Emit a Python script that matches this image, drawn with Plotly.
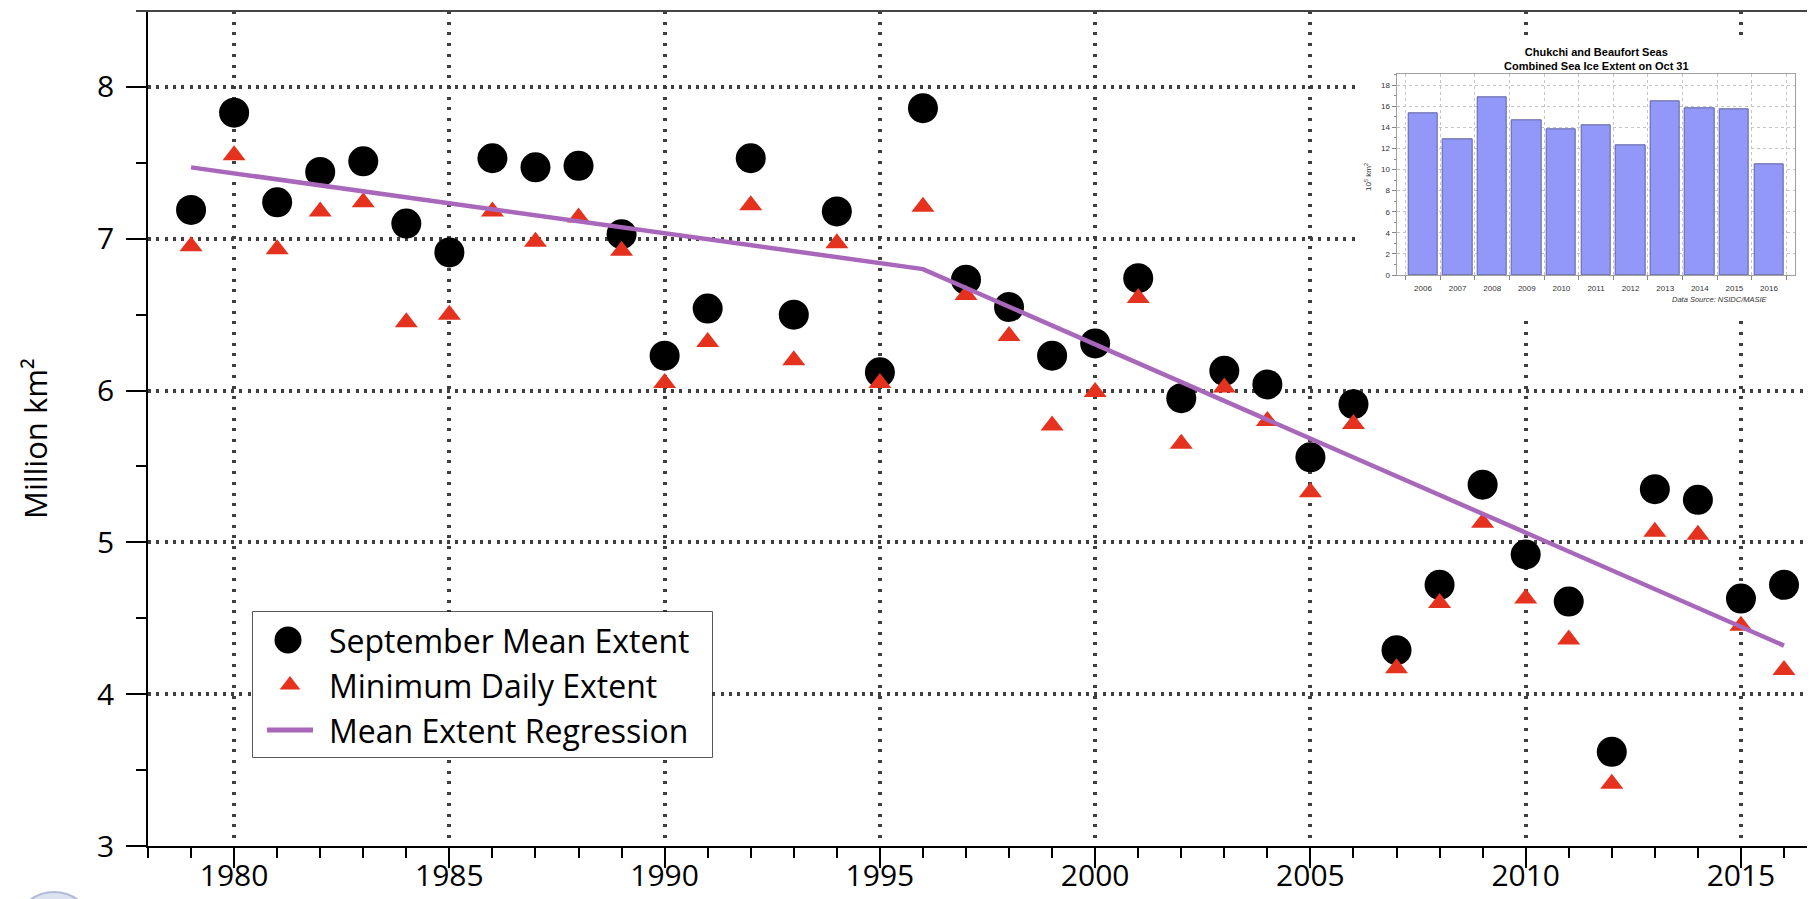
import plotly.graph_objects as go

# ---------------- data ----------------
years = list(range(1979, 2017))
september_mean_extent = [7.19, 7.83, 7.24, 7.44, 7.51, 7.10, 6.91, 7.53, 7.47, 7.48, 7.03,
                         6.23, 6.54, 7.53, 6.50, 7.18, 6.12, 7.86, 6.73, 6.55, 6.23, 6.31, 6.74,
                         5.95, 6.13, 6.04, 5.56, 5.91, 4.29, 4.72, 5.38, 4.92, 4.61, 3.62, 5.35,
                         5.28, 4.63, 4.72]
minimum_daily_extent = [6.95, 7.55, 6.93, 7.18, 7.24, 6.45, 6.50, 7.18, 6.98, 7.14, 6.92,
                        6.05, 6.32, 7.22, 6.20, 6.97, 6.05, 7.21, 6.63, 6.36, 5.77, 5.99, 6.61,
                        5.65, 6.02, 5.80, 5.33, 5.78, 4.17, 4.60, 5.13, 4.63, 4.36, 3.41, 5.07,
                        5.05, 4.45, 4.16]
regression_years = [1979, 1996, 2016]
regression_extent = [7.47, 6.80, 4.32]

inset_years = list(range(2006, 2017))
oct31_extent = [15.32, 12.85, 16.83, 14.65, 13.86, 14.18, 12.28, 16.45, 15.85, 15.69, 10.48]

legend_labels = ["September Mean Extent", "Minimum Daily Extent", "Mean Extent Regression"]

# ---------------- geometry / style ----------------
PAGE_OFFSET = 8                      # default body margin of the html page
SCREEN_W, SCREEN_H = 1815, 899
PLOT_L, PLOT_R, PLOT_T, PLOT_B = 148, 1815, 11, 846   # plot area on screen
W = SCREEN_W - PAGE_OFFSET
H = SCREEN_H - PAGE_OFFSET
ML = PLOT_L - PAGE_OFFSET
MT = PLOT_T - PAGE_OFFSET
MR = SCREEN_W - PLOT_R
MB = SCREEN_H - PLOT_B
X_RANGE = [1978, 2016.72]
Y_RANGE = [3, 8.5]


def paper_x(px):
    return (px - PLOT_L) / (PLOT_R - PLOT_L)


def paper_y(py):
    return (PLOT_B - py) / (PLOT_B - PLOT_T)


def data_x(px):
    return X_RANGE[0] + paper_x(px) * (X_RANGE[1] - X_RANGE[0])


def data_y(py):
    return Y_RANGE[0] + paper_y(py) * (Y_RANGE[1] - Y_RANGE[0])


RED = "#e5321f"
PURPLE = "#a867bb"
GRID = "#3f3f3f"
BAR = "#9198f7"
BAR_EDGE = "#5f63a0"
MAIN_FONT = "Open Sans"
INSET_FONT = "Liberation Sans"

# inset plot area (screen pixels)
IN_L, IN_R, IN_T, IN_B = 1396.7, 1795.3, 74.3, 275
# legend box (screen pixels)
LG_L, LG_R, LG_T, LG_B = 253, 712, 612, 757
LG_ROWS = [640, 685, 730]

fig = go.Figure()

# main series
fig.add_trace(go.Scatter(x=years, y=september_mean_extent, mode="markers",
                         marker=dict(symbol="circle", size=30, color="black"),
                         name=legend_labels[0], showlegend=False))
fig.add_trace(go.Scatter(x=years, y=minimum_daily_extent, mode="markers",
                         marker=dict(symbol="triangle-up", size=20, color=RED),
                         name=legend_labels[1], showlegend=False))
fig.add_trace(go.Scatter(x=regression_years, y=regression_extent, mode="lines",
                         line=dict(color=PURPLE, width=4.5),
                         name=legend_labels[2], showlegend=False))

# inset bars
fig.add_trace(go.Bar(x=inset_years, y=oct31_extent, width=0.85,
                     marker=dict(color=BAR, line=dict(color=BAR_EDGE, width=1)),
                     xaxis="x2", yaxis="y2", showlegend=False))

# legend symbols (drawn in an auxiliary pixel-space axis pair)
fig.add_trace(go.Scatter(x=[288], y=[LG_ROWS[0]], mode="markers",
                         marker=dict(symbol="circle", size=27, color="black"),
                         xaxis="x3", yaxis="y3", showlegend=False, hoverinfo="skip"))
fig.add_trace(go.Scatter(x=[290], y=[LG_ROWS[1]], mode="markers",
                         marker=dict(symbol="triangle-up", size=18, color=RED),
                         xaxis="x3", yaxis="y3", showlegend=False, hoverinfo="skip"))
fig.add_trace(go.Scatter(x=[267, 313], y=[LG_ROWS[2], LG_ROWS[2]], mode="lines",
                         line=dict(color=PURPLE, width=5),
                         xaxis="x3", yaxis="y3", showlegend=False, hoverinfo="skip"))

shapes = [
    # white background behind the inset chart (above main grid, below main traces)
    dict(type="rect", xref="x", yref="y", layer="between",
         x0=data_x(1360), x1=data_x(1806), y0=data_y(318), y1=data_y(42),
         fillcolor="white", line=dict(width=0)),
    # legend box
    dict(type="rect", xref="x", yref="y", layer="between",
         x0=data_x(LG_L), x1=data_x(LG_R), y0=data_y(LG_B), y1=data_y(LG_T),
         fillcolor="white", line=dict(color="#222222", width=1.5)),
    # top frame line
    dict(type="line", xref="paper", yref="paper", x0=paper_x(136), x1=1, y0=1, y1=1,
         line=dict(color="#444444", width=2)),
    # faint logo fragment in the bottom-left corner
    dict(type="circle", xref="paper", yref="paper",
         x0=paper_x(14), x1=paper_x(94), y0=paper_y(973), y1=paper_y(892),
         fillcolor="#dde2f0", line=dict(color="#b3bbd8", width=2)),
]


def ann(text, px, py, size, family, color="black", angle=0, xanchor="center", yanchor="middle"):
    return dict(text=text, x=paper_x(px), y=paper_y(py), xref="paper", yref="paper",
                xanchor=xanchor, yanchor=yanchor, textangle=angle, showarrow=False,
                font=dict(family=family, size=size, color=color))


annotations = [
    ann("Million km²", 35, 438, 31, MAIN_FONT, angle=-90),
    ann("<b>Chukchi and Beaufort Seas<br>Combined Sea Ice Extent on Oct 31</b>",
        (IN_L + IN_R) / 2, 59.5, 11, INSET_FONT),
    ann("10<sup>5</sup> km<sup>2</sup>", 1368, 177, 8, INSET_FONT, color="#333333", angle=-90),
    ann("<i>Data Source: NSIDC/MASIE</i>", 1720, 299.5, 7.5, INSET_FONT, color="#333333"),
]
for label, row in zip(legend_labels, LG_ROWS):
    annotations.append(ann(label, 327, row, 32, MAIN_FONT, xanchor="left"))

fig.update_layout(
    width=W, height=H,
    margin=dict(l=ML, r=MR, t=MT, b=MB, autoexpand=False),
    paper_bgcolor="white", plot_bgcolor="white",
    showlegend=False,
    bargap=0,
    xaxis=dict(
        range=X_RANGE, tickmode="linear", tick0=1980, dtick=5, automargin=False,
        ticks="outside", ticklen=20, tickwidth=1.5, tickcolor="black",
        showline=True, linecolor="black", linewidth=1.5,
        showgrid=True, gridcolor=GRID, gridwidth=3.5, griddash="3px,7.7px",
        zeroline=False, ticklabelstandoff=-18,
        tickfont=dict(family=MAIN_FONT, size=30, color="black"),
        minor=dict(tick0=1978, dtick=1, ticks="outside", ticklen=10, tickwidth=1.5,
                   tickcolor="black", showgrid=False),
    ),
    yaxis=dict(
        range=Y_RANGE, tickmode="linear", tick0=3, dtick=1, automargin=False,
        ticks="outside", ticklen=20, tickwidth=1.5, tickcolor="black",
        showline=True, linecolor="black", linewidth=1.5,
        showgrid=True, gridcolor=GRID, gridwidth=3.5, griddash="3px,5.3px",
        zeroline=False, ticklabelstandoff=6,
        tickfont=dict(family=MAIN_FONT, size=30, color="black"),
        minor=dict(tick0=3, dtick=0.5, ticks="outside", ticklen=10, tickwidth=1.5,
                   tickcolor="black", showgrid=False),
    ),
    xaxis2=dict(
        domain=[paper_x(IN_L), paper_x(IN_R)], anchor="y2", automargin=False,
        range=[2005.24, 2016.76], tickmode="array", tickvals=inset_years,
        ticks="", showline=True, mirror=True, linecolor="#a0a0a0", linewidth=1.2,
        showgrid=False, zeroline=False, ticklabelstandoff=5,
        tickfont=dict(family=INSET_FONT, size=8, color="#333333"),
        minor=dict(tickmode="linear", tick0=2005.5, dtick=1, ticks="outside", ticklen=4,
                   tickcolor="#888888", showgrid=True, gridcolor="#c4c4c4",
                   gridwidth=1, griddash="dot"),
    ),
    yaxis2=dict(
        domain=[paper_y(IN_B), paper_y(IN_T)], anchor="x2", automargin=False,
        range=[0, 19.04], tickmode="linear", tick0=0, dtick=2,
        ticks="outside", ticklen=4, tickcolor="#888888",
        showline=True, mirror=True, linecolor="#a0a0a0", linewidth=1.2,
        showgrid=True, gridcolor="#c4c4c4", gridwidth=1, griddash="dot",
        zeroline=False,
        tickfont=dict(family=INSET_FONT, size=8, color="#333333"),
        minor=dict(tick0=0, dtick=1, ticks="outside", ticklen=2, tickcolor="#888888",
                   showgrid=False),
    ),
    xaxis3=dict(domain=[paper_x(LG_L), paper_x(LG_R)], anchor="y3",
                range=[LG_L, LG_R], visible=False),
    yaxis3=dict(domain=[paper_y(LG_B), paper_y(LG_T)], anchor="x3",
                range=[LG_B, LG_T], visible=False),
    shapes=shapes,
    annotations=annotations,
)

fig.write_html("out.html")
